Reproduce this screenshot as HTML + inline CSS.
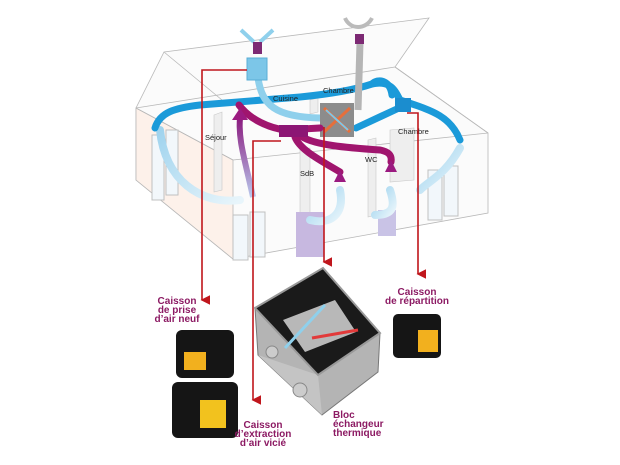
<!DOCTYPE html>
<html><head><meta charset="utf-8"><style>
html,body{margin:0;padding:0;background:#fff;}
svg{display:block}
text{font-family:"Liberation Sans",sans-serif;}
</style></head><body>
<svg width="620" height="465" viewBox="0 0 620 465" xmlns="http://www.w3.org/2000/svg">
<defs>
<linearGradient id="pu" x1="0" y1="1" x2="0" y2="0"><stop offset="0" stop-color="#b9c8ec"/><stop offset="1" stop-color="#8a1a7e"/></linearGradient>
<linearGradient id="lb" x1="0" y1="0" x2="1" y2="1"><stop offset="0" stop-color="#9fd3ee"/><stop offset="1" stop-color="#e8f5fb"/></linearGradient>
<marker id="ar" markerWidth="6" markerHeight="6" refX="3" refY="5" orient="auto"><path d="M0,0 L6,0 L3,6z" fill="#c0161c"/></marker>
</defs>
<g fill="none" stroke="#b8b8b8" stroke-width="0.8">
<polygon points="136,180 233,259 488,213 488,133 395,67 429,18 164,52 136,108" fill="#fbfbfb"/>
<polygon points="136,108 136,180 233,259 233,160" fill="#fdf1ea"/>
<line x1="136" y1="108" x2="395" y2="67"/>
<line x1="164" y1="52" x2="222" y2="100"/>
<line x1="395" y1="67" x2="488" y2="133"/>
<line x1="233" y1="160" x2="488" y2="133"/>
<line x1="136" y1="108" x2="233" y2="160"/>
</g>
<g fill="#eeeeee" stroke="#c8c8c8" stroke-width="0.6">
<polygon points="214,115 222,112 222,190 214,192"/>
<polygon points="300,150 310,148 310,220 300,222"/>
<polygon points="368,140 376,138 376,215 368,217"/>
<polygon points="390,130 414,128 414,180 390,182"/>
<polygon points="310,100 318,98 318,112 310,114"/>
</g>
<g fill="#f2f7fb" stroke="#c0c0c0" stroke-width="1">
<rect x="152" y="135" width="12" height="65"/><rect x="166" y="130" width="12" height="65"/>
<rect x="233" y="215" width="15" height="45"/><rect x="250" y="212" width="15" height="45"/>
<rect x="428" y="170" width="14" height="50"/><rect x="444" y="166" width="14" height="50"/>
</g>
<rect x="296" y="212" width="28" height="45" fill="#c7b8e0"/>
<rect x="378" y="210" width="18" height="26" fill="#c9c3e6"/>
<g fill="none" stroke="url(#lb)" stroke-width="8" stroke-linecap="round">
<path d="M160,130 C165,180 200,205 240,200"/>
<path d="M460,148 C445,175 430,180 420,190"/>
<path d="M310,220 C330,225 345,215 340,190"/>
<path d="M375,215 C395,215 395,205 390,190"/>
</g>
<g fill="none" stroke="#1b9ad9" stroke-width="7" stroke-linecap="round">
<path d="M155,128 C160,112 175,108 200,105 L300,97 C340,93 360,88 372,84 C390,80 395,90 400,100 C430,110 450,115 460,140"/>
<path d="M356,128 L399,108"/>
<path d="M372,84 C378,78 390,80 392,95"/>
</g>
<path d="M258,78 C262,105 275,117 320,118" fill="none" stroke="#8fd0ec" stroke-width="7"/>
<rect x="247" y="58" width="20" height="22" fill="#7cc6e8" stroke="#5aaed6"/>
<rect x="395" y="98" width="16" height="14" fill="#1b8dcf"/>
<path d="M241,30 L254,42 M273,30 L260,42" stroke="#8fd0ec" stroke-width="4"/>
<rect x="253" y="42" width="9" height="12" fill="#7d2a74"/>
<path d="M358,110 L360,43" stroke="#b5b5b5" stroke-width="7"/>
<path d="M345,18 C350,30 366,30 372,18" fill="none" stroke="#bbb" stroke-width="4"/>
<rect x="355" y="34" width="9" height="10" fill="#7d2a74"/>
<rect x="320" y="103" width="34" height="34" fill="#8c8c8c"/>
<path d="M324,108 L350,132 M324,132 L350,108" stroke="#e56f3c" stroke-width="3"/>
<path d="M326,110 L348,130" stroke="#7cc6e8" stroke-width="2"/>
<g fill="none" stroke="#a0156e" stroke-width="7" stroke-linecap="round">
<path d="M239,105 C250,120 270,128 285,130 L320,128"/>
<path d="M295,137 C300,150 320,160 340,172"/>
<path d="M300,135 C310,145 350,148 380,150 C390,152 392,156 391,162"/>
</g>
<rect x="279" y="125" width="29" height="12" fill="#8c1674"/>
<g fill="none" stroke="url(#pu)" stroke-width="6">
<path d="M253,197 C245,160 238,140 240,118"/>
<path d="M340,213 L340,180"/><path d="M391,207 L391,170"/>
</g>
<path d="M232,120 L240,108 L248,120z M334,182 L340,170 L346,182z M385,172 L391,160 L397,172z" fill="#9b1a80"/>
<g font-size="7.5" fill="#222">
<text x="205" y="140">Séjour</text><text x="273" y="101">Cuisine</text>
<text x="323" y="93">Chambre</text><text x="398" y="134">Chambre</text>
<text x="300" y="176">SdB</text><text x="365" y="162">WC</text>
</g>
<g fill="none" stroke="#c0161c" stroke-width="1.6" marker-end="url(#ar)">
<path d="M247,70 L202,70 L202,300"/>
<path d="M281,141 L253,141 L253,400"/>
<path d="M324,127 L324,262"/>
<path d="M407,113 L418,113 L418,274"/>
</g>
<!-- exchanger block (open box) -->
<polygon points="255,308 258,355 322,415 378,372 380,333 318,375" fill="#b4b4b4" stroke="#777"/>
<polygon points="258,355 318,375 322,415" fill="#c4c4c4"/>
<polygon points="255,308 323,268 380,333 318,375" fill="#1a1a1a" stroke="#999" stroke-width="2"/>
<polygon points="283,320 335,300 356,332 305,352" fill="#b8b8b8"/>
<circle cx="272" cy="352" r="6" fill="#ccc" stroke="#888"/><circle cx="300" cy="390" r="7" fill="#ccc" stroke="#888"/>
<path d="M285,348 L325,305" stroke="#8fd0ec" stroke-width="3"/><path d="M312,338 L358,330" stroke="#e23a3a" stroke-width="3"/>
<g fill="#151515">
<rect x="176" y="330" width="58" height="48" rx="6"/>
<rect x="172" y="382" width="66" height="56" rx="6"/>
<rect x="393" y="314" width="48" height="44" rx="5"/>
</g>
<rect x="184" y="352" width="22" height="18" fill="#f2b01e"/>
<rect x="200" y="400" width="26" height="28" fill="#f2c21e"/>
<rect x="418" y="330" width="20" height="22" fill="#f2b01e"/>
<g font-size="10" font-weight="bold" fill="#8c1a63" text-anchor="middle">
<text x="177" y="304">Caisson</text><text x="177" y="313">de prise</text><text x="177" y="322">d’air neuf</text>
<text x="417" y="295">Caisson</text><text x="417" y="304">de répartition</text>
<text x="263" y="428">Caisson</text><text x="263" y="437">d’extraction</text><text x="263" y="446">d’air vicié</text>
</g>
<g font-size="10" font-weight="bold" fill="#8c1a63">
<text x="333" y="418">Bloc</text><text x="333" y="427">échangeur</text><text x="333" y="436">thermique</text>
</g>
</svg>
</body></html>
